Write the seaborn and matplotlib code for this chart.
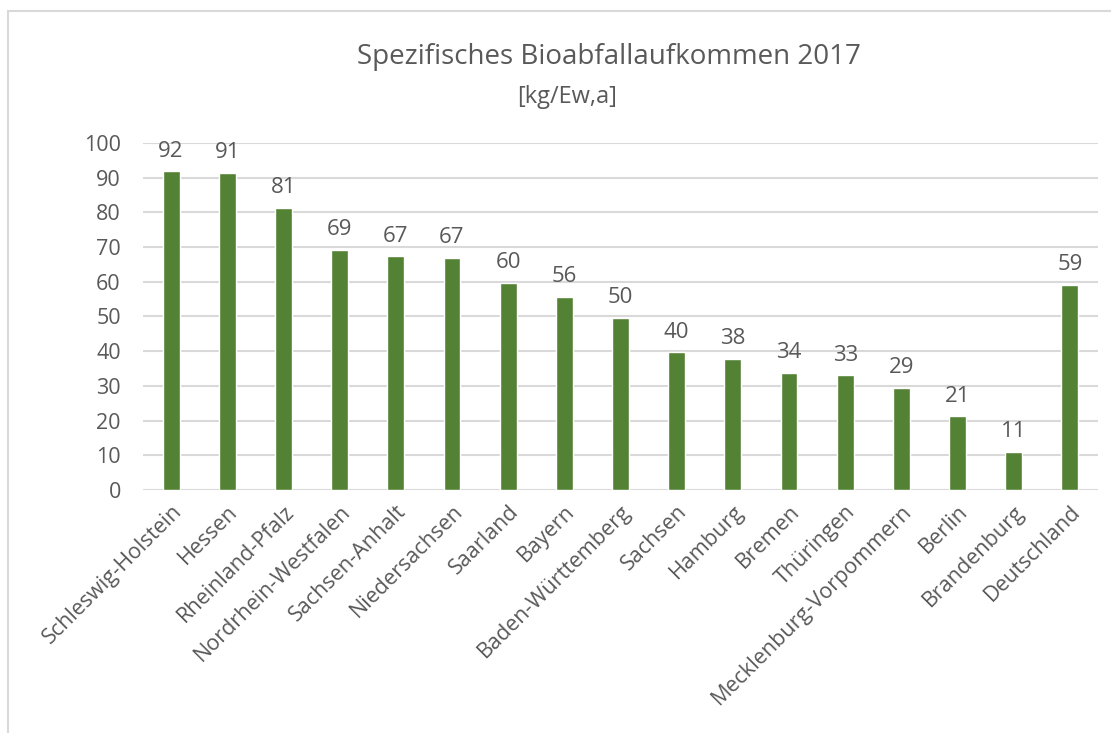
import matplotlib
matplotlib.use("Agg")
import matplotlib.pyplot as plt
from matplotlib.lines import Line2D
import seaborn as sns
import pandas as pd

laender = ["Schleswig-Holstein", "Hessen", "Rheinland-Pfalz", "Nordrhein-Westfalen",
           "Sachsen-Anhalt", "Niedersachsen", "Saarland", "Bayern",
           "Baden-Württemberg", "Sachsen", "Hamburg", "Bremen", "Thüringen",
           "Mecklenburg-Vorpommern", "Berlin", "Brandenburg", "Deutschland"]
aufkommen = [91.8, 91.3, 81.3, 69.2, 67.3, 67.0, 59.6, 55.6, 49.7, 39.7,
             37.8, 33.8, 33.0, 29.4, 21.2, 11.0, 59.2]
y_ticks = [0, 10, 20, 30, 40, 50, 60, 70, 80, 90, 100]

df = pd.DataFrame({"Land": laender, "Aufkommen": aufkommen})

sns.set_style("white")
plt.rcParams['font.family'] = ['Open Sans', 'DejaVu Sans']
grau = "#595959"

fig = plt.figure(figsize=(11.11, 7.33), dpi=100)
ax = fig.add_axes([143 / 1111, 1 - 490 / 733, 955 / 1111, 347 / 733])

sns.barplot(data=df, x="Land", y="Aufkommen", color="#548235", width=0.3,
            saturation=1, ax=ax)
ax.bar_label(ax.containers[0], fmt="%.0f", padding=7, color=grau, fontsize=16)

ax.set_ylim(0, 100)
ax.set_yticks(y_ticks)
ax.yaxis.grid(True, color="#d9d9d9", linewidth=1.5)
ax.set_axisbelow(True)
for s in ax.spines.values():
    s.set_visible(False)
ax.tick_params(axis="both", length=0, labelsize=15.5, labelcolor=grau)
ax.tick_params(axis="y", pad=16)
ax.set_xlabel("")
ax.set_ylabel("")
plt.setp(ax.get_xticklabels(), rotation=45, ha="right", va="top",
         rotation_mode="anchor")
ax.tick_params(axis="x", pad=8)

fig.text(609 / 1111, 1 - 57 / 733, "Spezifisches Bioabfallaufkommen 2017",
         ha="center", va="center", fontsize=20, color=grau)
fig.text(567 / 1111, 1 - 97 / 733, "[kg/Ew,a]", ha="center", va="center",
         fontsize=17, color=grau)

# Rahmen des Diagramms
fig.add_artist(Line2D([8 / 1111, 8 / 1111], [0, 1 - 11 / 733], color="#d9d9d9", lw=1.5))
fig.add_artist(Line2D([8 / 1111, 1], [1 - 11 / 733, 1 - 11 / 733], color="#d9d9d9", lw=1.5))

fig.savefig("out.png", dpi=100)
